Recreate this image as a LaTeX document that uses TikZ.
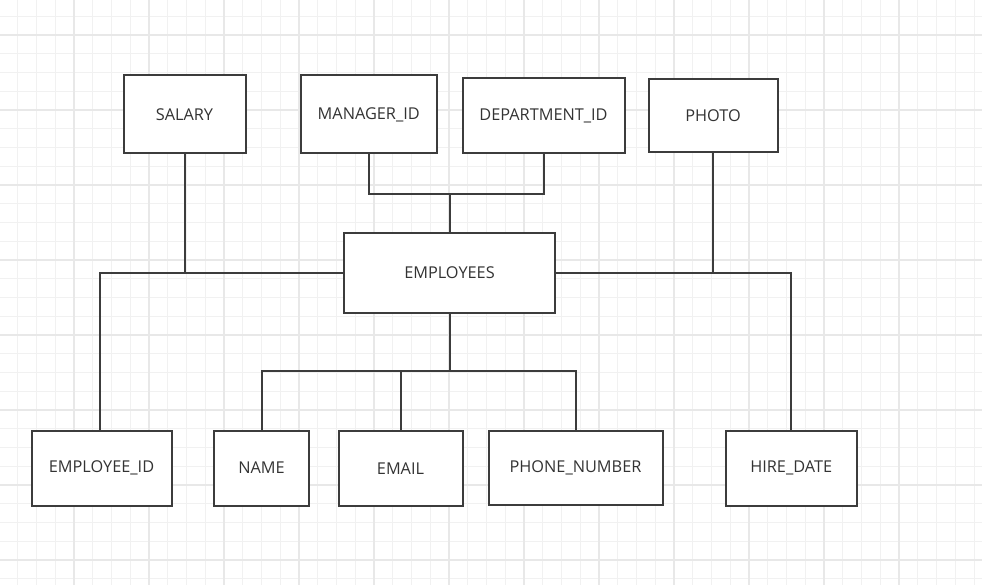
\documentclass[tikz,border=0pt]{standalone}
\usepackage{fontspec}
\setmainfont{Open Sans}
\definecolor{ln}{HTML}{3C3C3C}
\definecolor{tx}{HTML}{333333}
\definecolor{gminor}{HTML}{F1F1F1}
\definecolor{gmajor}{HTML}{E8E8E8}
\tikzset{
  entbox/.style={draw=ln, line width=2pt, fill=white, inner sep=0pt, outer sep=0pt,
    text=tx, font=\fontsize{16.3}{18}\selectfont},
  conn/.style={draw=ln, line width=2pt},
  gridminor/.style={draw=gminor, line width=1pt},
  gridmajor/.style={draw=gmajor, line width=1.2pt}
}
\newcommand{\ebox}[6]{%
  \node[entbox, minimum width={#4-#2}, minimum height={#5-#3}] (#1) at ({(#2+#4)/2},{(#3+#5)/2}) {#6};}
\begin{document}
\begin{tikzpicture}[x=1pt,y=-1pt]
\useasboundingbox (0,0) rectangle (982,585);
\fill[white] (0,0) rectangle (982,585);
% grid
\foreach \i in {-3,...,48} {
  \draw[gridminor] ({74+18.75*\i},0) -- ({74+18.75*\i},585);
}
\foreach \i in {-1,...,29} {
  \draw[gridminor] (0,{35+18.75*\i}) -- (982,{35+18.75*\i});
}
\foreach \i in {0,...,12} {
  \draw[gridmajor] ({74-75+75*\i},0) -- ({74-75+75*\i},585);
}
\foreach \i in {0,...,7} {
  \draw[gridmajor] (0,{35+75*\i}) -- (982,{35+75*\i});
}
% boxes
\ebox{salary}{123.5}{75.5}{245.5}{153.5}{SALARY}
\ebox{mgr}{301}{75.5}{436.5}{153.5}{MANAGER\_ID}
\ebox{dept}{462.5}{78.5}{624.5}{153}{DEPARTMENT\_ID}
\ebox{photo}{648.5}{79}{777.5}{152.5}{PHOTO}
\ebox{emp}{344}{233.5}{555}{312.5}{EMPLOYEES}
\ebox{empid}{31.5}{430.5}{171.5}{505.5}{EMPLOYEE\_ID}
\ebox{name}{214}{430.5}{309}{505.5}{NAME}
\ebox{email}{338.5}{431}{462.5}{505.5}{EMAIL}
\ebox{phone}{488.5}{431}{662.5}{505}{PHONE\_NUMBER}
\ebox{hire}{726}{431}{856.5}{505.5}{HIRE\_DATE}
% connectors
\coordinate (topj) at (emp.north |- 0,194);
\coordinate (botj) at (emp.south |- 0,371);
\coordinate (leftj) at (100,0);
\draw[conn] (mgr.south) |- (topj) -| (dept.south);
\draw[conn] (emp.north) -- (topj);
\draw[conn] (salary.south) |- (emp.west);
\draw[conn] (emp.west) -| (leftj |- empid.north);
\draw[conn] (photo.south) -- (photo.south |- emp.east);
\draw[conn] (emp.east) -| (hire.north);
\draw[conn] (emp.south) -- (botj);
\draw[conn] (name.north) |- (botj) -| (phone.north);
\draw[conn] (email.north) -- (email.north |- botj);
\end{tikzpicture}
\end{document}
